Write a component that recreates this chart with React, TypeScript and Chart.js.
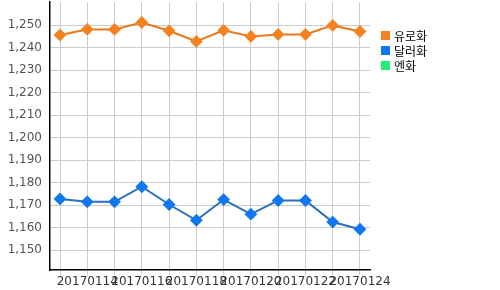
import React, { useEffect, useRef } from "react";
import { Chart, registerables } from "chart.js";
Chart.register(...registerables);

const dates = ["20170113", "20170114", "20170115", "20170116", "20170117", "20170118", "20170119", "20170120", "20170121", "20170122", "20170123", "20170124"];
const euro = [1245.6, 1248.1, 1248.1, 1251.2, 1247.5, 1242.8, 1247.7, 1245.0, 1245.9, 1245.9, 1249.9, 1247.2];
const dollar = [1172.8, 1171.5, 1171.5, 1178.2, 1170.3, 1163.3, 1172.5, 1166.0, 1172.1, 1172.1, 1162.5, 1159.3];
const yen: number[] = [];
const seriesNames = ["유로화", "달러화", "엔화"];
const yTicks = [1150, 1160, 1170, 1180, 1190, 1200, 1210, 1220, 1230, 1240, 1250];

const colors = ["#f58220", "#1177ee", "#22ee77"];
const lineColors = ["#e9781c", "#2a6fbf", "#22ee77"];

export default function App() {
  const ref = useRef<HTMLCanvasElement>(null);
  useEffect(() => {
    document.body.style.margin = "0";
    const toPts = (arr: number[]) => arr.map((v, i) => ({ x: i, y: v }));
    const chart = new Chart(ref.current!, {
      type: "line",
      data: {
        datasets: [euro, dollar, yen].map((arr, k) => ({
          label: seriesNames[k],
          data: toPts(arr),
          borderColor: lineColors[k],
          backgroundColor: colors[k],
          pointBackgroundColor: colors[k],
          pointBorderColor: colors[k],
          pointStyle: "rectRot",
          pointRadius: 5,
          borderWidth: 2,
          tension: 0,
        })),
      },
      options: {
        animation: false,
        responsive: false,
        layout: { padding: { left: 0, right: 130, top: 0, bottom: 0 } },
        plugins: { legend: { display: false }, tooltip: { enabled: false } },
        scales: {
          x: {
            type: "linear",
            min: -0.3667,
            max: 11.3667,
            afterBuildTicks: (s: any) => {
              s.ticks = dates.map((_, i) => ({ value: i }));
            },
            afterFit: (s: any) => {
              s.height = 20;
              s.paddingLeft = 0;
              s.paddingRight = 0;
            },
            ticks: {
              autoSkip: false,
              maxRotation: 0,
              padding: 0,
              color: "#333",
              font: { family: "DejaVu Sans", size: 12 },
              callback: (v: any) => (Number(v) % 2 === 1 ? dates[Number(v)] : ""),
            },
            grid: { color: "#cccccc", tickLength: 5, tickColor: "#cccccc" },
            border: { color: "#000", width: 1.5 },
          },
          y: {
            min: 1141.2,
            max: 1260.3,
            afterBuildTicks: (s: any) => {
              s.ticks = yTicks.map((v) => ({ value: v }));
            },
            afterFit: (s: any) => {
              s.width = 50;
              s.paddingTop = 0;
              s.paddingBottom = 0;
            },
            ticks: {
              padding: 8,
              color: "#555",
              font: { family: "DejaVu Sans", size: 12 },
              callback: (v: any) => Number(v).toLocaleString("en-US"),
            },
            grid: { color: "#cccccc", drawTicks: false },
            border: { color: "#000", width: 1.5 },
          },
        },
      },
    });
    return () => chart.destroy();
  }, []);
  return (
    <div style={{ position: "relative", width: 500, height: 290, background: "#fff", overflow: "hidden" }}>
      <canvas ref={ref} width={500} height={295} style={{ display: "block", marginTop: -5 }} />
      <div style={{ position: "absolute", left: 381, top: 28, fontFamily: "'Noto Sans CJK KR'", fontSize: 12, color: "#000" }}>
        {seriesNames.map((n, k) => (
          <div key={n} style={{ display: "flex", alignItems: "center", height: 15 }}>
            <span style={{ display: "inline-block", width: 9, height: 9, background: colors[k], marginRight: 4 }} />
            <span style={{ lineHeight: "15px" }}>{n}</span>
          </div>
        ))}
      </div>
    </div>
  );
}
